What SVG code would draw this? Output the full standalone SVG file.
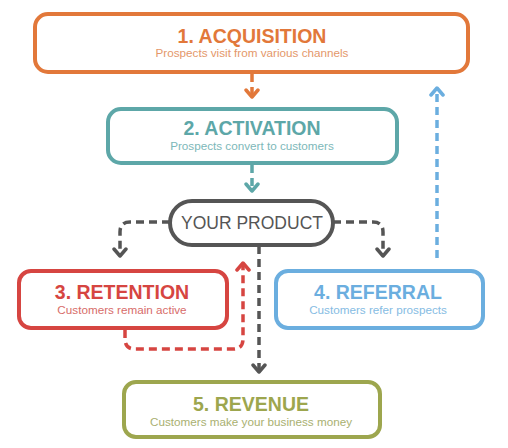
<svg xmlns="http://www.w3.org/2000/svg" width="508" height="448" viewBox="0 0 508 448">
<defs>
<style>
.box{fill:#fff;stroke-width:4}
.t{font-family:"Liberation Sans",Arial,sans-serif;font-weight:bold;font-size:19.5px;text-anchor:middle}
.s{font-family:"Liberation Sans",Arial,sans-serif;font-size:11.7px;text-anchor:middle}
.c{fill:none;stroke-width:3.5;stroke-dasharray:8 5}
.orange{stroke:#E2783A}.teal{stroke:#5DA7A8}.red{stroke:#D64541}.blue{stroke:#6BAEDF}.olive{stroke:#9DA64E}.gray{stroke:#555}
</style>
<marker id="aO" markerUnits="userSpaceOnUse" markerWidth="16" markerHeight="16" refX="10" refY="8" orient="auto" viewBox="0 0 16 16"><path d="M3 2 L10 8 L3 14" fill="none" stroke="#E2783A" stroke-width="3.5" stroke-linecap="round" stroke-linejoin="round"/></marker>
<marker id="aT" markerUnits="userSpaceOnUse" markerWidth="16" markerHeight="16" refX="10" refY="8" orient="auto" viewBox="0 0 16 16"><path d="M3 2 L10 8 L3 14" fill="none" stroke="#5DA7A8" stroke-width="3.5" stroke-linecap="round" stroke-linejoin="round"/></marker>
<marker id="aR" markerUnits="userSpaceOnUse" markerWidth="16" markerHeight="16" refX="10" refY="8" orient="auto" viewBox="0 0 16 16"><path d="M3 2 L10 8 L3 14" fill="none" stroke="#D64541" stroke-width="3.5" stroke-linecap="round" stroke-linejoin="round"/></marker>
<marker id="aB" markerUnits="userSpaceOnUse" markerWidth="16" markerHeight="16" refX="10" refY="8" orient="auto" viewBox="0 0 16 16"><path d="M3 2 L10 8 L3 14" fill="none" stroke="#6BAEDF" stroke-width="3.5" stroke-linecap="round" stroke-linejoin="round"/></marker>
<marker id="aG" markerUnits="userSpaceOnUse" markerWidth="16" markerHeight="16" refX="10" refY="8" orient="auto" viewBox="0 0 16 16"><path d="M3 2 L10 8 L3 14" fill="none" stroke="#555" stroke-width="3.5" stroke-linecap="round" stroke-linejoin="round"/></marker>
</defs>
<rect width="508" height="448" fill="#fff"/>
<g id="connectors">
<path class="c orange" d="M252 74 V97" stroke-dasharray="5 8 20" marker-end="url(#aO)"/>
<path class="c teal" d="M252 165 V191" stroke-dasharray="5 8 20" marker-end="url(#aT)"/>
<path class="c blue" d="M437 258 V88" marker-end="url(#aB)"/>
<path class="c gray" d="M170 222 H130 Q120 222 120 232 V256" marker-end="url(#aG)"/>
<path class="c gray" d="M333 222 H373 Q383 222 383 232 V256" marker-end="url(#aG)"/>
<path class="c gray" d="M259 246 V372" marker-end="url(#aG)"/>
<path class="c red" d="M125 330 V339 Q125 349 135 349 H233 Q243 349 243 339 V263" marker-end="url(#aR)"/>
</g>
<g id="acquisition">
<rect class="box orange" x="35" y="14" width="433" height="58" rx="13"/>
<text class="t" x="252" y="43" fill="#E2783A">1. ACQUISITION</text>
<text class="s" x="252" y="57" fill="#E4976A">Prospects visit from various channels</text>
</g>
<g id="activation">
<rect class="box teal" x="108" y="109" width="289" height="54" rx="13"/>
<text class="t" x="252" y="135" fill="#5DA7A8">2. ACTIVATION</text>
<text class="s" x="252" y="149.5" fill="#7DB8B9">Prospects convert to customers</text>
</g>
<g id="product">
<rect class="box gray" x="170" y="201" width="163" height="44" rx="22"/>
<text x="252" y="229" font-family="Liberation Sans, Arial, sans-serif" font-size="17.5" fill="#555" text-anchor="middle">YOUR PRODUCT</text>
</g>
<g id="retention">
<rect class="box red" x="19" y="271" width="208" height="57" rx="12"/>
<text class="t" x="122" y="299" fill="#D64541">3. RETENTION</text>
<text class="s" x="122" y="313.5" fill="#D76C69">Customers remain active</text>
</g>
<g id="referral">
<rect class="box blue" x="276" y="271" width="207" height="57" rx="12"/>
<text class="t" x="378" y="299" fill="#6BAEDF">4. REFERRAL</text>
<text class="s" x="378" y="313.5" fill="#86BCE3">Customers refer prospects</text>
</g>
<g id="revenue">
<rect class="box olive" x="124" y="382" width="256" height="55" rx="12"/>
<text class="t" x="251" y="411" fill="#9DA64E">5. REVENUE</text>
<text class="s" x="251" y="425.5" fill="#A9B070">Customers make your business money</text>
</g>
</svg>
